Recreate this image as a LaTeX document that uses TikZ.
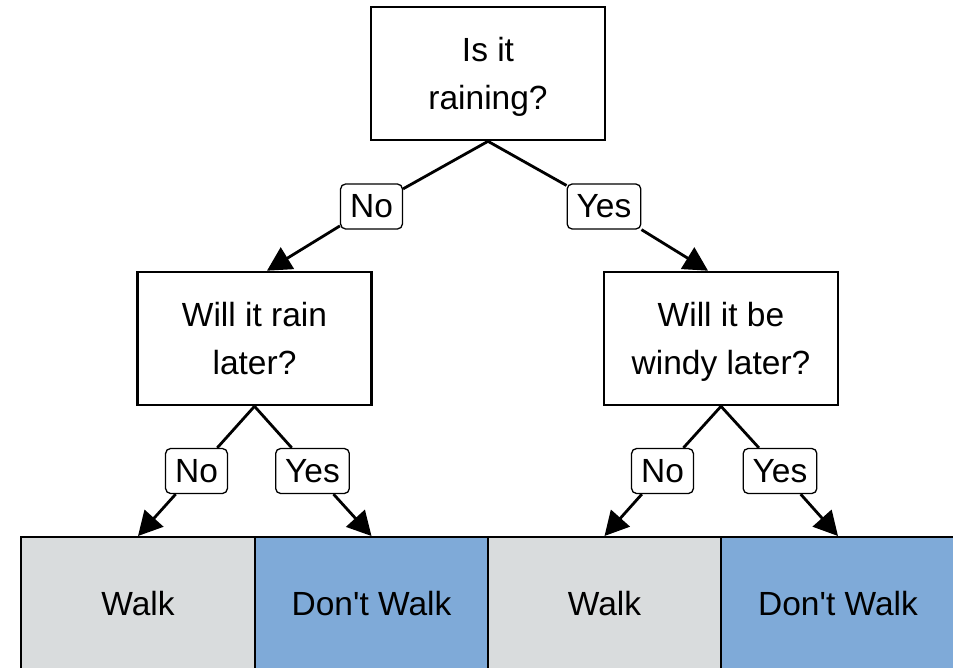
\documentclass[tikz,border=0pt]{standalone}
\usepackage{fontspec}
\setmainfont{Liberation Sans}[Ligatures=TeXOff]
\usetikzlibrary{arrows.meta,calc}
\definecolor{leafgrey}{RGB}{217,220,221}
\definecolor{leafblue}{RGB}{127,170,216}
\begin{document}
\begin{tikzpicture}[x=1pt,y=-1pt,
  font=\fontsize{33.5}{48.5}\selectfont,
  question/.style={draw,line width=2.6pt,minimum width=234pt,minimum height=133pt,
                   align=center,inner sep=0pt,text height=72.5pt,text depth=0pt},
  answer/.style={draw,line width=1.3pt,rounded corners=5pt,fill=white,
                 minimum height=45pt,inner xsep=9.5pt,inner ysep=0pt},
  leaf/.style={draw,line width=2pt,minimum width=233.5pt,minimum height=133pt,inner sep=0pt},
  link/.style={line width=2.8pt},
  arrow/.style={link,-{Triangle[length=24pt,width=25pt]}}]
\useasboundingbox (0,0) rectangle (953,667);
\clip (0,0) rectangle (953,667);

% outcomes along the bottom
\node[leaf,fill=leafgrey] (l1) at (138,603.5) {Walk};
\node[leaf,fill=leafblue] (l2) at (371.5,603.5) {Don't Walk};
\node[leaf,fill=leafgrey] (l3) at (604.5,603.5) {Walk};
\node[leaf,fill=leafblue] (l4) at (838,603.5) {Don't Walk};

% questions
\node[question] (q1) at (488,73.5) {Is it\\raining?};
\node[question] (q2) at (254.5,338.5) {Will it rain\\later?};
\node[question] (q3) at (721,338.5) {Will it be\\windy later?};

% answer labels
\node[answer] (a1) at (371.5,206.5) {No};
\node[answer] (a2) at (604,206.5) {Yes};
\node[answer] (a3) at (196.5,471) {No};
\node[answer] (a4) at (312.5,471) {Yes};
\node[answer] (a5) at (662.5,471) {No};
\node[answer] (a6) at (780,471) {Yes};

% branches
\draw[link] (q1.south) -- (a1);
\draw[arrow] (a1) -- ([xshift=12.5pt]q2.north);
\draw[link] (q1.south) -- (a2);
\draw[arrow] (a2) -- ([xshift=-13pt]q3.north);

\draw[link] (q2.south) -- (a3);
\draw[arrow] (a3) -- (l1.north);
\draw[link] (q2.south) -- (a4);
\draw[arrow] (a4) -- (l2.north);

\draw[link] (q3.south) -- (a5);
\draw[arrow] (a5) -- (l3.north);
\draw[link] (q3.south) -- (a6);
\draw[arrow] (a6) -- (l4.north);
\end{tikzpicture}
\end{document}
